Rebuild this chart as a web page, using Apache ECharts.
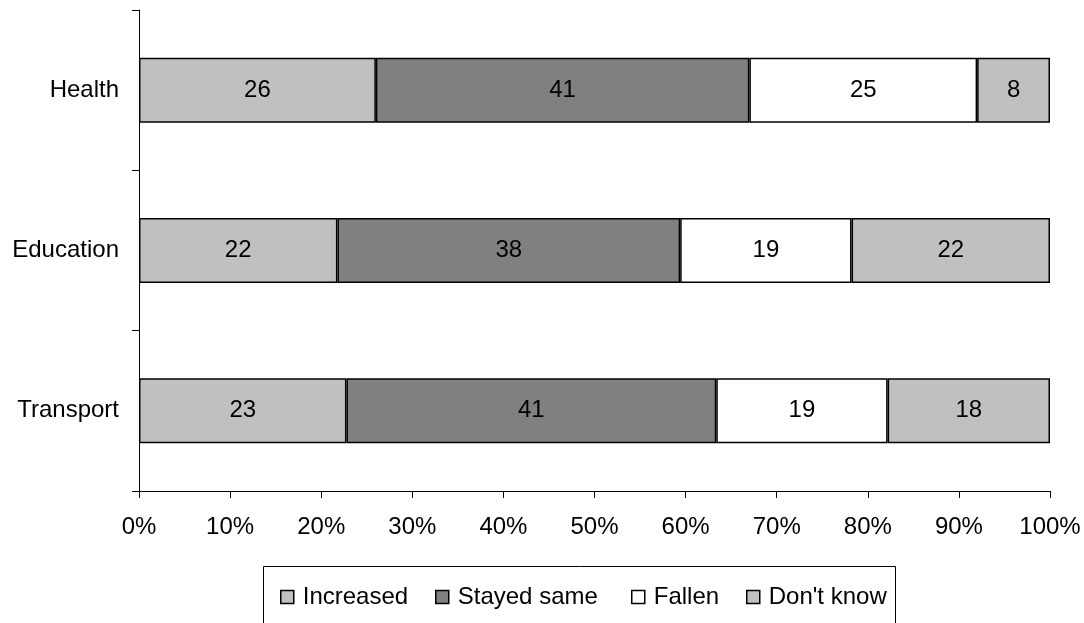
<!DOCTYPE html>
<html>
<head>
<meta charset="utf-8">
<script src="https://cdn.jsdelivr.net/npm/echarts@6/dist/echarts.min.js"></script>
<style>
  html, body { margin: 0; padding: 0; background: #fff; }
  #chart { width: 1084px; height: 623px; }
</style>
</head>
<body>
<div id="chart"></div>
<script>
// Services (bottom to top on the category axis)
const categories = ['Transport', 'Education', 'Health'];
const seriesNames = ['Increased', 'Stayed same', 'Fallen', "Don't know"];
// Raw answers per service, same order as categories
const increased  = [23, 22, 26];
const stayedSame = [41, 38, 41];
const fallen     = [19, 19, 25];
const dontKnow   = [18, 22, 8];
const xTickLabels = ['0%', '10%', '20%', '30%', '40%', '50%', '60%', '70%', '80%', '90%', '100%'];

const seriesColors = ['#c0c0c0', '#808080', '#ffffff', '#c0c0c0'];
const raw = [increased, stayedSame, fallen, dontKnow];

// Row totals so each bar spans the full 100%
const totals = categories.map((_, i) => raw.reduce((s, arr) => s + arr[i], 0));

const FONT = '"Liberation Sans", Arial, sans-serif';
const FS = 24;

const chart = echarts.init(document.getElementById('chart'), null, { renderer: 'canvas' });

const series = raw.map((arr, k) => ({
  name: seriesNames[k],
  type: 'bar',
  stack: 'total',
  barWidth: 65,
  data: arr.map((v, i) => v / totals[i] * 100),
  itemStyle: { color: seriesColors[k], borderColor: '#000', borderWidth: 1.5 },
  label: {
    show: true,
    position: 'inside',
    color: '#000',
    fontFamily: FONT,
    fontSize: FS,
    formatter: p => String(arr[p.dataIndex])
  },
  emphasis: { disabled: true },
  animation: false
}));

// One legend block per entry, laid out left to right inside the framed box
const legendLeft = [275, 430, 626, 741];
const legends = seriesNames.map((n, k) => ({
  left: legendLeft[k],
  top: 580,
  itemWidth: 13,
  itemHeight: 13,
  icon: 'rect',
  selectedMode: false,
  textStyle: { color: '#000', fontFamily: FONT, fontSize: FS, padding: [0, 0, 0, 4] },
  data: [{
    name: n,
    itemStyle: { color: seriesColors[k], borderColor: '#000', borderWidth: 1.5 }
  }]
}));

chart.setOption({
  backgroundColor: '#fff',
  animation: false,
  grid: { left: 139, right: 34, top: 10, bottom: 132, containLabel: false },
  xAxis: {
    type: 'value',
    min: 0, max: 100, interval: 10,
    axisLine: { show: true, lineStyle: { color: '#000', width: 1 } },
    axisTick: { show: true, length: 7, lineStyle: { color: '#000', width: 1 } },
    splitLine: { show: false },
    axisLabel: {
      margin: 24,
      color: '#000',
      fontFamily: FONT,
      fontSize: FS,
      formatter: v => xTickLabels[Math.round(v / 10)]
    }
  },
  yAxis: {
    type: 'category',
    data: categories,
    axisLine: { show: true, lineStyle: { color: '#000', width: 1 } },
    axisTick: { show: true, length: 7, lineStyle: { color: '#000', width: 1 } },
    axisLabel: { margin: 20, color: '#000', fontFamily: FONT, fontSize: FS, padding: [0, 0, 4, 0] }
  },
  legend: legends,
  graphic: [{
    type: 'rect',
    silent: true,
    z: -1,
    shape: { x: 263.5, y: 566.5, width: 632, height: 80 },
    style: { fill: '#fff', stroke: '#000', lineWidth: 1 }
  }],
  series: series
});
</script>
</body>
</html>
